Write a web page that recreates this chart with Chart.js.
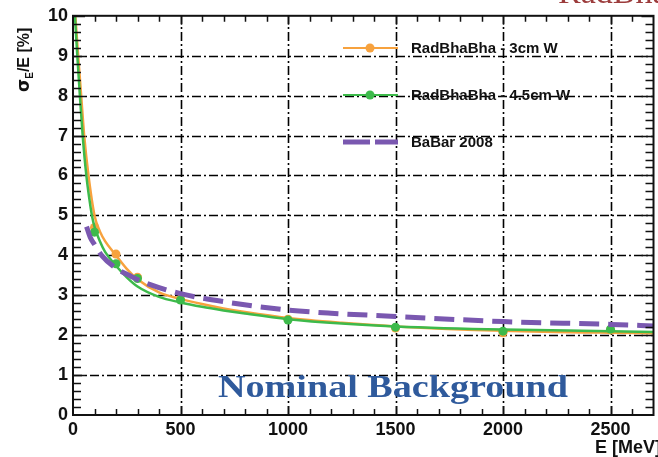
<!DOCTYPE html>
<html>
<head>
<meta charset="utf-8">
<script src="https://cdn.jsdelivr.net/npm/chart.js@4.4.1/dist/chart.umd.min.js"></script>
<style>
  html, body { margin: 0; padding: 0; background: #fff; }
  #wrap { width: 658px; height: 457px; }
</style>
</head>
<body>
<div id="wrap"><canvas id="res" width="658" height="457"></canvas></div>
<script>
// energy resolution fits (E in MeV, sigma_E/E in %)
const fit3cmE   = [11, 24, 38, 52, 72, 100, 125, 150, 200, 250, 300, 400, 500, 600, 700, 800, 1000, 1250, 1500, 2000, 2500, 2700];
const fit3cm    = [10, 9, 8, 7, 6, 5.0, 4.6, 4.35, 4.0, 3.66, 3.4, 3.07, 2.91, 2.78, 2.67, 2.58, 2.43, 2.31, 2.22, 2.11, 2.06, 2.05];
const fit45cmE  = [9, 20, 32, 45, 62, 75, 88, 100, 125, 150, 200, 250, 300, 400, 500, 600, 700, 800, 1000, 1250, 1500, 2000, 2500, 2700];
const fit45cm   = [10, 9, 8, 7, 6, 5.45, 5.0, 4.72, 4.35, 4.08, 3.74, 3.45, 3.22, 2.96, 2.82, 2.71, 2.62, 2.54, 2.4, 2.29, 2.22, 2.14, 2.1, 2.08];
const babarE    = [63, 80, 100, 133, 194, 271, 356, 500, 700, 1000, 1200, 1500, 2000, 2500, 2700];
const babar     = [4.72, 4.45, 4.27, 4.0, 3.7, 3.47, 3.27, 3.04, 2.84, 2.63, 2.55, 2.47, 2.34, 2.27, 2.23];

// simulated points
const simE      = [100, 200, 300, 500, 1000, 1500, 2000, 2500];
const sim3cm    = [4.7, 4.03, 3.45, 2.9, 2.4, 2.18, 2.06, 2.13];
const sim45cm   = [4.58, 3.79, 3.42, 2.88, 2.38, 2.2, 2.1, 2.15];

const xTicks = [0, 500, 1000, 1500, 2000, 2500];
const yTicks = [0, 1, 2, 3, 4, 5, 6, 7, 8, 9, 10];

const ORANGE = '#f7a23e';
const GREEN = '#3dba4b';
const PURPLE = '#7a58b0';

const pts = (xs, ys) => xs.map((x, i) => ({ x, y: ys[i] }));

const legendItems = [
  { text: 'RadBhaBha - 3cm W', color: ORANGE, dash: [], width: 2, marker: true },
  { text: 'RadBhaBha - 4.5cm W', color: GREEN, dash: [], width: 2, marker: true },
  { text: 'BaBar 2008', color: PURPLE, dash: [27, 5], width: 5, marker: false }
];

// dash-dot grid under the curves
const dashGrid = {
  id: 'dashGrid',
  beforeDatasetsDraw(chart) {
    const { ctx, chartArea: a, scales: { x, y } } = chart;
    ctx.save();
    ctx.strokeStyle = '#000';
    ctx.lineWidth = 1.6;
    ctx.setLineDash([9, 3, 2, 3]);
    ctx.beginPath();
    xTicks.forEach(v => {
      if (v <= 0) return;
      const px = Math.round(x.getPixelForValue(v)) + 0.5;
      ctx.moveTo(px, a.bottom); ctx.lineTo(px, a.top);
    });
    yTicks.forEach(v => {
      if (v <= 0 || v >= 10) return;
      const py = Math.round(y.getPixelForValue(v)) + 0.5;
      ctx.moveTo(a.left, py); ctx.lineTo(a.right, py);
    });
    ctx.stroke();
    ctx.restore();
  }
};

// frame, minor ticks, titles, legend and labels
const decorations = {
  id: 'decorations',
  afterDatasetsDraw(chart) {
    const { ctx, chartArea: a, scales: { x, y } } = chart;
    ctx.save();

    // minor ticks
    ctx.strokeStyle = '#111';
    ctx.lineWidth = 1.5;
    ctx.beginPath();
    for (let e = 100; e < 2700; e += 100) {
      const px = Math.round(x.getPixelForValue(e)) + 0.5;
      const len = e % 500 === 0 ? 9 : 6;
      ctx.moveTo(px, a.bottom); ctx.lineTo(px, a.bottom - len);
      ctx.moveTo(px, a.top); ctx.lineTo(px, a.top + len);
    }
    for (let v = 0.2; v < 10; v += 0.2) {
      const py = Math.round(y.getPixelForValue(v)) + 0.5;
      const len = Math.abs(v - Math.round(v)) < 1e-6 ? 12 : 8;
      ctx.moveTo(a.left, py); ctx.lineTo(a.left + len, py);
      ctx.moveTo(a.right, py); ctx.lineTo(a.right - len, py);
    }
    ctx.stroke();

    // frame
    ctx.lineWidth = 2;
    ctx.strokeStyle = '#111';
    ctx.strokeRect(a.left, a.top, a.right - a.left, a.bottom - a.top);

    // legend
    legendItems.forEach((it, i) => {
      const ly = 48 + i * 47;
      ctx.save();
      ctx.strokeStyle = it.color;
      ctx.lineWidth = it.width;
      ctx.setLineDash(it.dash);
      ctx.beginPath();
      ctx.moveTo(343, ly); ctx.lineTo(398, ly);
      ctx.stroke();
      ctx.restore();
      if (it.marker) {
        ctx.fillStyle = it.color;
        ctx.beginPath();
        ctx.arc(370, ly, 4.5, 0, Math.PI * 2);
        ctx.fill();
      }
      ctx.fillStyle = '#111';
      ctx.font = 'bold 15px "Liberation Sans", Arial, sans-serif';
      ctx.textBaseline = 'middle';
      ctx.textAlign = 'left';
      ctx.fillText(it.text, 411, ly + 1);
    });

    // x axis title
    ctx.fillStyle = '#111';
    ctx.font = 'bold 18px "Liberation Sans", Arial, sans-serif';
    ctx.textBaseline = 'middle';
    ctx.fillText('E [MeV]', 595, 448);

    // y axis title, rotated
    ctx.save();
    ctx.translate(25, 92);
    ctx.rotate(-Math.PI / 2);
    ctx.textBaseline = 'middle';
    ctx.font = 'bold 17px "DejaVu Sans", sans-serif';
    ctx.fillText('σ', 0, 0);
    let w = ctx.measureText('σ').width;
    ctx.font = 'bold 10px "Liberation Sans", Arial, sans-serif';
    ctx.fillText('E', w, 5);
    w += ctx.measureText('E').width;
    ctx.font = 'bold 16px "Liberation Sans", Arial, sans-serif';
    ctx.fillText('/E [%]', w, 0);
    ctx.restore();

    // overlay label
    ctx.save();
    ctx.font = 'bold 31px "Liberation Serif", "DejaVu Serif", serif';
    ctx.fillStyle = '#2f5a9c';
    ctx.textBaseline = 'alphabetic';
    const tw = ctx.measureText('Nominal Background').width;
    ctx.translate(218, 397);
    ctx.scale(350 / tw, 1);
    ctx.fillText('Nominal Background', 0, 0);
    ctx.restore();

    // heading at the top edge
    ctx.font = '34px "Liberation Serif", serif';
    ctx.fillStyle = '#9c3c3c';
    ctx.textBaseline = 'alphabetic';
    ctx.fillText('RadBhaBha', 558, 3);

    ctx.restore();
  }
};

const tickFont = { family: '"Liberation Sans", Arial, sans-serif', size: 18, weight: 'bold' };

new Chart(document.getElementById('res'), {
  type: 'line',
  data: {
    datasets: [
      {
        label: 'BaBar 2008',
        data: pts(babarE, babar),
        borderColor: PURPLE,
        borderWidth: 5,
        borderDash: [20, 9],
        pointRadius: 0,
        cubicInterpolationMode: 'monotone'
      },
      {
        label: 'RadBhaBha - 4.5cm W points',
        data: pts(simE, sim45cm),
        showLine: false,
        pointRadius: 4.5,
        pointBackgroundColor: GREEN,
        pointBorderWidth: 0
      },
      {
        label: 'RadBhaBha - 4.5cm W',
        data: pts(fit45cmE, fit45cm),
        borderColor: GREEN,
        borderWidth: 2.5,
        pointRadius: 0,
        cubicInterpolationMode: 'monotone'
      },
      {
        label: 'RadBhaBha - 3cm W points',
        data: pts(simE, sim3cm),
        showLine: false,
        pointRadius: 4.5,
        pointBackgroundColor: ORANGE,
        pointBorderWidth: 0
      },
      {
        label: 'RadBhaBha - 3cm W',
        data: pts(fit3cmE, fit3cm),
        borderColor: ORANGE,
        borderWidth: 2.5,
        pointRadius: 0,
        cubicInterpolationMode: 'monotone'
      }
    ]
  },
  options: {
    responsive: false,
    animation: false,
    layout: { padding: { top: 15, right: 2, left: 0, bottom: 0 } },
    plugins: {
      legend: { display: false },
      tooltip: { enabled: false }
    },
    scales: {
      x: {
        type: 'linear',
        min: 0,
        max: 2700,
        afterBuildTicks: (s) => { s.ticks = xTicks.map(v => ({ value: v })); },
        afterFit: (s) => { s.height = 42; },
        ticks: { color: '#111', font: tickFont, padding: 4, maxRotation: 0, callback: (v) => String(v) },
        grid: { display: false, drawTicks: false },
        border: { display: false }
      },
      y: {
        min: 0,
        max: 10,
        afterBuildTicks: (s) => { s.ticks = yTicks.map(v => ({ value: v })); },
        afterFit: (s) => { s.width = 73; },
        ticks: { color: '#111', font: tickFont, padding: 5, callback: (v) => String(v) },
        grid: { display: false, drawTicks: false },
        border: { display: false }
      }
    }
  },
  plugins: [dashGrid, decorations]
});
</script>
</body>
</html>
